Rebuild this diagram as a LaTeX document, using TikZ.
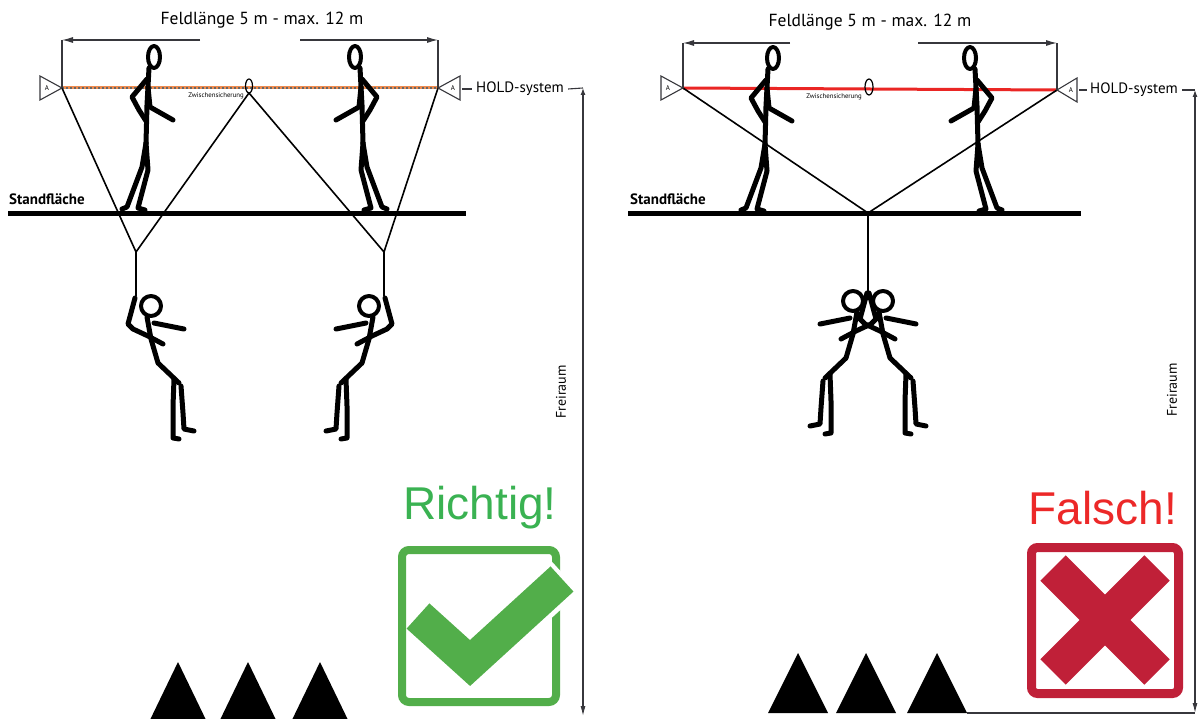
\documentclass[tikz,border=0pt]{standalone}
\usepackage{fontspec}
\setmainfont{PT Sans}
\newfontfamily\arialfont{Liberation Sans}
\usepackage{xcolor}
\definecolor{okgreen}{RGB}{82,174,74}
\definecolor{oktext}{RGB}{58,178,82}
\definecolor{badred}{RGB}{192,32,56}
\definecolor{badtext}{RGB}{236,40,40}
\definecolor{ropeorange}{RGB}{238,140,80}
\definecolor{ropered}{RGB}{234,38,36}
\definecolor{dimgray}{RGB}{55,55,60}
\usetikzlibrary{arrows.meta,positioning,calc}

\begin{document}
\begin{tikzpicture}[x=1pt,y=-1pt,
  stick/.style={line width=5pt,line cap=round,line join=round},
  ground/.style={line width=5pt},
  lanyard/.style={line width=1.6pt},
  dim/.style={line width=1.1pt,dimgray},
  dimarr/.style={dim,-{Latex[length=11pt,width=6pt]}},
  freiarr/.style={dim,{Latex[length=7pt,width=5pt]}-{Latex[length=10pt,width=5pt]}},
  anchorbox/.style={draw=dimgray,line width=1.1pt,fill=white,line join=miter},
  txt/.style={inner sep=0pt,font=\fontsize{17.5}{20}\selectfont},
  small/.style={inner sep=0pt,font=\fontsize{6.8}{7}\selectfont},
  walker/.pic={
    \draw[stick,line width=4pt] (0,0) ellipse[x radius=6,y radius=11];
    \draw[stick] (-5,11) -- (-7,48) -- (-8,86);
    \draw[stick] (-7,22) -- (-22,40) -- (-15,53) -- (-8,64);
    \draw[stick] (-6,30) -- (-4,50) -- (19,63);
    \draw[stick] (-8,86) -- (-12,110) -- (-27,150) -- (-32,152);
    \draw[stick] (-8,86) -- (-6,113) -- (-16,151) -- (-9,153);
  },
  hanger/.pic={
    \draw[stick,line width=4pt] (15,10) circle[radius=10];
    \draw[stick] (-1,2) -- (-8,28) -- (-3,33) -- (12,40) -- (27,48);
    \draw[stick] (18,27) -- (48,33);
    \draw[stick] (11,21) -- (15,43) -- (22,67) -- (43,87);
    \draw[stick] (38,83) -- (37,110) -- (37,142) -- (43,143);
    \draw[stick] (45,90) -- (47,117) -- (48,133) -- (58,135);
  }]
\useasboundingbox (0,0) rectangle (1198,719);

%%% left: two intermediate anchors in one field
\coordinate (aL) at (62,88);
\coordinate (aR) at (438,88);
\coordinate (zw) at (249,86);
\coordinate (vL) at (136,252);
\coordinate (vR) at (384,252);
\coordinate (hL) at (136,296);
\coordinate (hR) at (384,296);

\draw[ground] (8,214) -- (466,214);
\node[txt,font=\bfseries\fontsize{15}{17}\selectfont,anchor=base west] (sf) at (9,205) {Standfläche};

\draw[ropeorange,line width=3pt] (aL) -- (aR);
\draw[black!60,line width=1.2pt,dash pattern=on 1.5pt off 2.5pt] (aL) -- (aR);
\draw[lanyard] (aL) -- (vL) -- ($(zw)+(0,7)$) -- (vR) -- (aR);
\draw[lanyard] (vL) -- (hL);
\draw[lanyard] (vR) -- (hR);
\draw[line width=1.2pt] (zw) ellipse[x radius=3.5,y radius=7];
\node[small,anchor=east] (zwt) at (244,96) {Zwischensicherung};

\draw[anchorbox] (aL) -- ++(-22,-12) -- ++(0,24) -- cycle;
\node[small,font=\fontsize{7}{7}\selectfont] at ($(aL)+(-15,0)$) {A};
\draw[anchorbox] (aR) -- ++(22,-12) -- ++(0,24) -- cycle;
\node[small,font=\fontsize{7}{7}\selectfont] at ($(aR)+(15,0)$) {A};

% field length
\coordinate (dL) at (62,40);
\coordinate (dLe) at (200,40);
\coordinate (dR) at (438,40);
\coordinate (dRe) at (300,40);
\draw[dim] (aL) -- (dL);
\draw[dimarr] (dLe) -- (dL);
\draw[dim] (aR) -- (dR);
\draw[dimarr] (dRe) -- (dR);
\node[txt,anchor=base] (fl) at (262,25) {Feldlänge 5 m - max. 12 m};

% system label and clearance
\node[txt,font=\fontsize{15}{17}\selectfont,anchor=west] (hold) at (476,89) {HOLD-system};
\coordinate (fTop) at (583,88);
\coordinate (fBot) at (583,716);
\draw[dim] ([xshift=-14pt]hold.west) -- ([xshift=-4pt]hold.west);
\draw[dim] ([xshift=4pt]hold.east) -- (fTop);
\draw[freiarr] (fTop) -- (fBot);
\node[txt,font=\fontsize{14}{16}\selectfont,rotate=90] (frei) at (561,392) {Freiraum};

\pic at (154,57) {walker};
\pic[xscale=-1] at (355,57) {walker};
\pic at (hL) {hanger};
\pic[xscale=-1] at (hR) {hanger};

\foreach \tx in {178,248,320}
  \fill (\tx,662) -- ++(29,60) -- ++(-58,0) -- cycle;

\node[inner sep=0pt,text=oktext,font=\arialfont\fontsize{46}{46}\selectfont] (ok) at (480,508) {Richtig!};
\draw[okgreen,line width=8pt,rounded corners=7pt] (402,550) rectangle (556,702);
\draw[white,line width=44pt] (520,617) -- (565,576);
\draw[okgreen,line width=34pt,line join=miter] (418,616) -- (470,663) -- (562,579);

%%% right: one intermediate anchor in the middle
\coordinate (bL) at (683,88);
\coordinate (bR) at (1057,90);
\coordinate (zw2) at (869,87);
\coordinate (v2) at (868,213);
\coordinate (h2) at (868,291);

\draw[ground] (628,214) -- (1081,214);
\node[txt,font=\bfseries\fontsize{15}{17}\selectfont,anchor=base west] (sf2) at (630,205) {Standfläche};

\draw[ropered,line width=3pt] (bL) -- (bR);
\draw[lanyard] (bL) -- (v2) -- (bR);
\draw[lanyard] (v2) -- (h2);
\draw[line width=1.2pt] (zw2) ellipse[x radius=4,y radius=8];
\node[small,anchor=east] (zwt2) at (862,97) {Zwischensicherung};

\draw[anchorbox] (bL) -- ++(-22,-12) -- ++(0,24) -- cycle;
\node[small,font=\fontsize{7}{7}\selectfont] at ($(bL)+(-15,0)$) {A};
\draw[anchorbox] (bR) -- ++(20,-12) -- ++(0,24) -- cycle;
\node[small,font=\fontsize{7}{7}\selectfont] at ($(bR)+(14,0)$) {A};

\coordinate (eL) at (683,43);
\coordinate (eLe) at (790,43);
\coordinate (eR) at (1057,43);
\coordinate (eRe) at (918,43);
\draw[dim] (bL) -- (eL);
\draw[dimarr] (eLe) -- (eL);
\draw[dim] (bR) -- (eR);
\draw[dimarr] (eRe) -- (eR);
\node[txt,anchor=base] (fl2) at (870,27) {Feldlänge 5 m - max. 12 m};

\node[txt,font=\fontsize{15}{17}\selectfont,anchor=west] (hold2) at (1090,90) {HOLD-system};
\coordinate (gTop) at (1195,90);
\coordinate (gBot) at (1195,713);
\coordinate (gFoot) at (967,713);
\draw[dim] ([xshift=-11pt]hold2.west) -- ([xshift=-3pt]hold2.west);
\draw[dim] ([xshift=4pt]hold2.east) -- (gTop);
\draw[freiarr] (gTop) -- (gBot);
\draw[dim] (gFoot) -- (gBot);
\node[txt,font=\fontsize{14}{16}\selectfont,rotate=90] (frei2) at (1172,390) {Freiraum};

\pic at (773,58) {walker};
\pic[xscale=-1] at (970,58) {walker};
\pic[xscale=-1] at (h2) {hanger};
\pic at (h2) {hanger};

\foreach \tx in {798,866,937}
  \fill (\tx,653) -- ++(30,60) -- ++(-60,0) -- cycle;

\node[inner sep=0pt,text=badtext,font=\arialfont\fontsize{46}{46}\selectfont] (bad) at (1103,508) {Falsch!};
\draw[badred,line width=9pt,rounded corners=6pt] (1031.5,547.5) rectangle (1178.5,693.5);
\draw[badred,line width=36pt] (1053,568) -- (1157,672);
\draw[badred,line width=36pt] (1157,568) -- (1053,672);
\end{tikzpicture}
\end{document}
